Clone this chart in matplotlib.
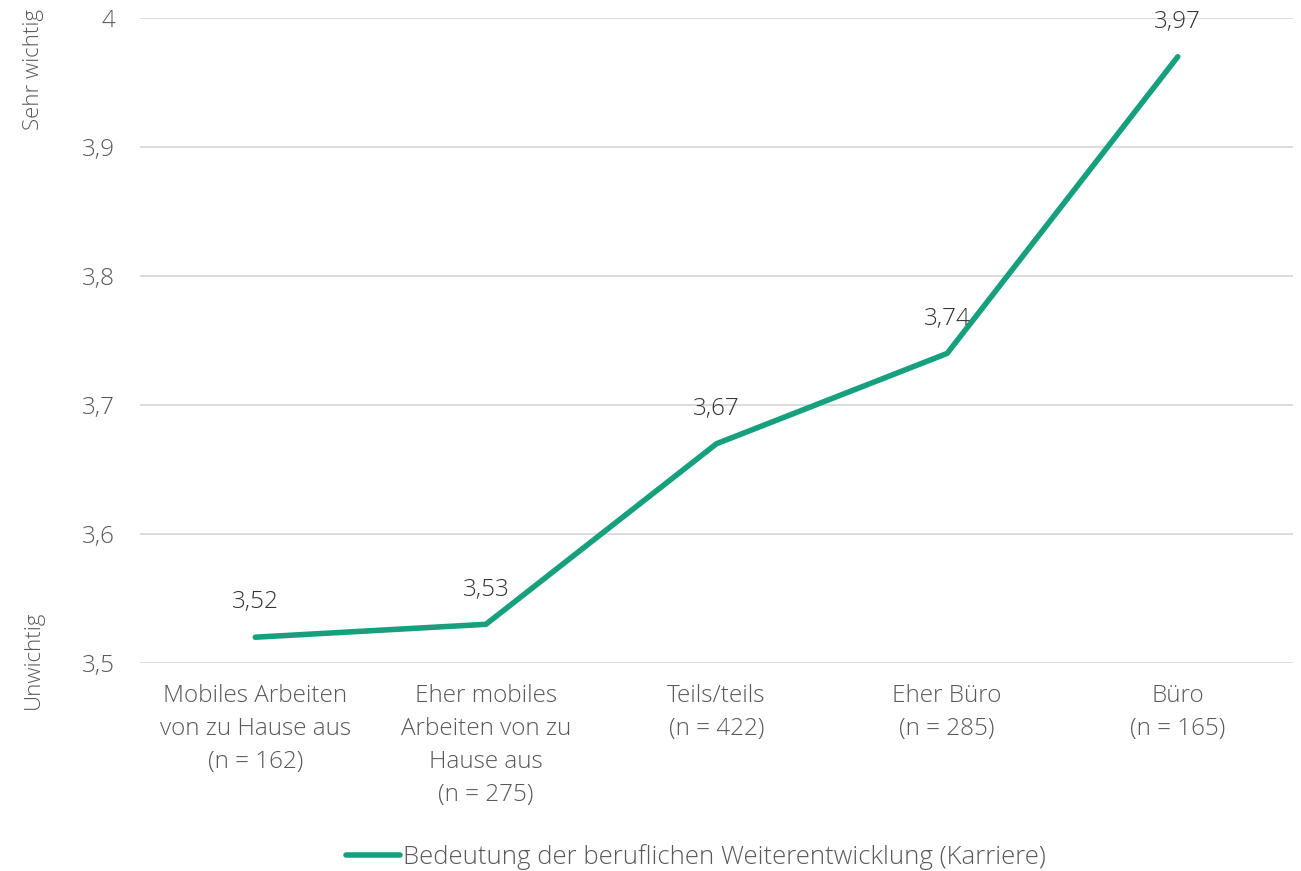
import numpy as np
import matplotlib.pyplot as plt

plt.rcParams['font.family'] = ['Open Sans', 'DejaVu Sans']
plt.rcParams['font.weight'] = 'light'

categories = ["Mobiles Arbeiten\nvon zu Hause aus\n(n = 162)",
              "Eher mobiles\nArbeiten von zu\nHause aus\n(n = 275)",
              "Teils/teils\n(n = 422)",
              "Eher Büro\n(n = 285)",
              "Büro\n(n = 165)"]
values = [3.52, 3.53, 3.67, 3.74, 3.97]
series_name = "Bedeutung der beruflichen Weiterentwicklung (Karriere)"
yticks = [3.5, 3.6, 3.7, 3.8, 3.9, 4.0]

green = '#16A07E'
txt = '#595959'

fig = plt.figure(figsize=(13.01, 8.71), dpi=100)
ax = fig.add_axes([0.1076, 0.2388, 0.8863, 0.7405])

x = np.arange(len(values))
ax.plot(x, values, color=green, linewidth=4, solid_capstyle='round', label=series_name, zorder=3)
for xi, v in zip(x, values):
    ax.annotate(f"{v:.2f}".replace('.', ','), (xi, v), xytext=(0, 25), textcoords='offset points',
                ha='center', va='center', fontsize=17.5, color='#333333')

ax.set_xlim(-0.5, len(values) - 0.5)
ax.set_ylim(3.5, 4.0)
ax.set_yticks(yticks)
ax.set_yticklabels([("%g" % t).replace('.', ',') for t in yticks], fontsize=17.5, color=txt)
ax.set_xticks(x)
ax.set_xticklabels(categories, fontsize=17.5, color=txt, linespacing=1.5)
ax.tick_params(axis='x', length=0, pad=15)
ax.tick_params(axis='y', length=0, pad=18)
ax.grid(axis='y', color='#d9d9d9', linewidth=1.3)
ax.set_axisbelow(True)
for s in ax.spines.values():
    s.set_visible(False)

fig.text(0.026, 0.92, "Sehr wichtig", rotation=90, ha='center', va='center', fontsize=16, color=txt)
fig.text(0.026, 0.243, "Unwichtig", rotation=90, ha='center', va='center', fontsize=16, color=txt)

fig.legend(loc='center', bbox_to_anchor=(0.535, 0.016), frameon=False, fontsize=18.5,
           labelcolor=txt, handlelength=2.1, handletextpad=0.1)

fig.savefig('out.png', dpi=100)
